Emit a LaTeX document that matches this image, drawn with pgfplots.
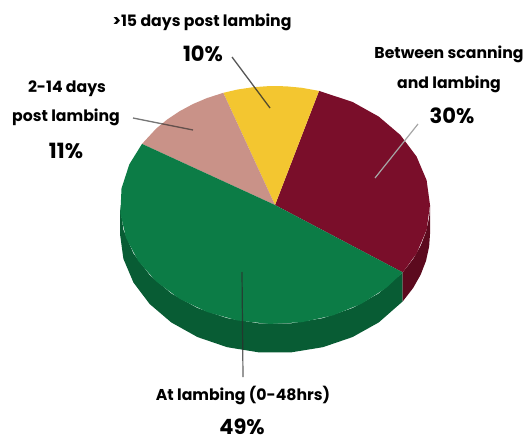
\documentclass[border=0pt]{standalone}
\usepackage{pgfplots}
\usepackage{pgfplotstable}
\usepackage{fontspec}
\setmainfont{Poppins}
\pgfplotsset{compat=1.18}

\definecolor{pgreen}{RGB}{12,124,70}
\definecolor{pgreenside}{RGB}{8,92,52}
\definecolor{pred}{RGB}{122,14,42}
\definecolor{predside}{RGB}{92,10,30}
\definecolor{pyellow}{RGB}{243,198,48}
\definecolor{ppink}{RGB}{201,146,136}
\definecolor{ptext}{RGB}{45,45,45}

% Outline of each slice: angle t on the ellipse, r = 0 at the hub and 1 on the rim,
% d = 0 on the top face and 1 on the lower edge of the wall.
% Slice spans follow the shares 30, 10, 11 and 49 per cent of 360 degrees.
\pgfplotstableread{
t r d
0 0 0
-34.5 1 0
-24 1 0
-12 1 0
0 1 0
12 1 0
24 1 0
36 1 0
48 1 0
60 1 0
73.5 1 0
}\sliceScanning
\pgfplotstableread{
t r d
0 0 0
73.5 1 0
80 1 0
86 1 0
92 1 0
98 1 0
104 1 0
109.5 1 0
}\sliceLate
\pgfplotstableread{
t r d
0 0 0
109.5 1 0
116 1 0
122 1 0
128 1 0
134 1 0
140 1 0
149.1 1 0
}\sliceEarly
\pgfplotstableread{
t r d
0 0 0
149.1 1 0
160 1 0
172 1 0
184 1 0
196 1 0
208 1 0
220 1 0
232 1 0
244 1 0
256 1 0
268 1 0
280 1 0
292 1 0
304 1 0
316 1 0
325.5 1 0
}\sliceLambing
% Walls below the top face
\pgfplotstableread{
t r d
180 1 0
192 1 0
204 1 0
216 1 0
228 1 0
240 1 0
252 1 0
264 1 0
276 1 0
288 1 0
300 1 0
312 1 0
325.5 1 0
325.5 1 1
312 1 1
300 1 1
288 1 1
276 1 1
264 1 1
252 1 1
240 1 1
228 1 1
216 1 1
204 1 1
192 1 1
180 1 1
}\wallLambing
\pgfplotstableread{
t r d
325.5 1 0
333 1 0
340 1 0
347 1 0
354 1 0
360 1 0
360 1 1
354 1 1
347 1 1
340 1 1
333 1 1
325.5 1 1
}\wallScanning
% Leader lines, in picture coordinates
\pgfplotstableread{
x y
232 57
270 108
}\leadLate
\pgfplotstableread{
x y
133 118
193 130
}\leadEarly
\pgfplotstableread{
x y
418 124
375 178
}\leadScanning
\pgfplotstableread{
x y
242 272
243 377
}\leadLambing

\newcommand{\rimx}{275+155*\thisrow{r}*cos(\thisrow{t})}
\newcommand{\rimy}{205-119*\thisrow{r}*sin(\thisrow{t})+29*\thisrow{d}}
\pgfplotsset{slice/.style={draw=none, fill=#1, forget plot}}
\newcommand{\lab}{\fontsize{15.7}{17}\selectfont\bfseries}
\newcommand{\pct}{\fontsize{21}{23}\selectfont\bfseries}

\begin{document}
\begin{tikzpicture}
\begin{axis}[
  scale only axis, width=529pt, height=444pt,
  xmin=0, xmax=529, ymin=0, ymax=444, y dir=reverse,
  axis lines=none, clip=false,
  every node/.append style={text=ptext, align=center, inner sep=0pt, anchor=center}
]
% Full picture area, so the page keeps its size
\path (axis cs:0,0) -- (axis cs:529,444);

\addplot[slice=pgreenside] table[x expr=\rimx, y expr=\rimy] {\wallLambing};
\addplot[slice=predside] table[x expr=\rimx, y expr=\rimy] {\wallScanning};
\addplot[slice=pred] table[x expr=\rimx, y expr=\rimy] {\sliceScanning};
\addplot[slice=pyellow] table[x expr=\rimx, y expr=\rimy] {\sliceLate};
\addplot[slice=ppink] table[x expr=\rimx, y expr=\rimy] {\sliceEarly};
\addplot[slice=pgreen] table[x expr=\rimx, y expr=\rimy] {\sliceLambing};

\addplot[color=ptext, opacity=0.8, line width=1.3pt] table {\leadLate};
\addplot[color=ptext, opacity=0.65, line width=1.3pt] table {\leadEarly};
\addplot[color=gray!70, line width=1.2pt] table {\leadScanning};
\addplot[color=ptext, opacity=0.75, line width=1.2pt] table {\leadLambing};

\node[font=\lab] at (axis cs:202,22) {>15 days post lambing};
\node[font=\pct] at (axis cs:203,54) {10\%};
\node[font=\lab] at (axis cs:67,89) {2-14 days};
\node[font=\lab] at (axis cs:66,117) {post lambing};
\node[font=\pct] at (axis cs:66,151) {11\%};
\node[font=\lab] at (axis cs:449,54) {Between scanning};
\node[font=\lab] at (axis cs:449,84) {and lambing};
\node[font=\pct] at (axis cs:452,116) {30\%};
\node[font=\lab] at (axis cs:243,395) {At lambing (0-48hrs)};
\node[font=\pct] at (axis cs:242,427) {49\%};
\end{axis}
\end{tikzpicture}
\end{document}
